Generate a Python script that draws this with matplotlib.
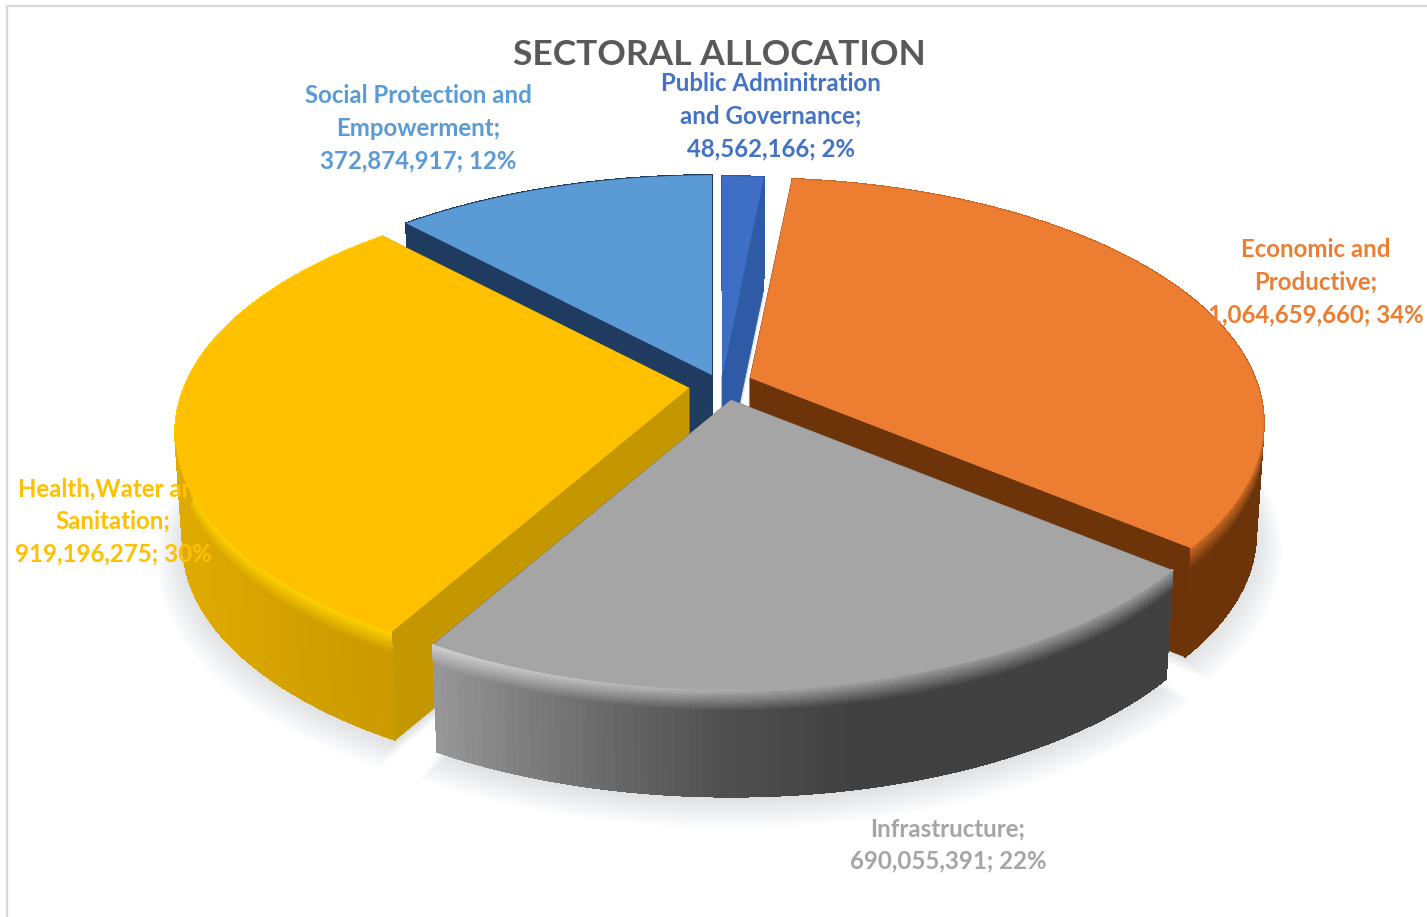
import numpy as np
import matplotlib
matplotlib.use("Agg")
import matplotlib.pyplot as plt
from matplotlib.collections import PolyCollection
from matplotlib.colors import to_rgb

names = ['Public Adminitration\nand Governance', 'Economic and\nProductive', 'Infrastructure',
         'Health,Water and\nSanitation', 'Social Protection and\nEmpowerment']
values = [48562166, 1064659660, 690055391, 919196275, 372874917]

top_cols = ['#3F6EC5', '#ED7D31', '#A5A5A5', '#FFC000', '#5B9BD5']
face_cols = ['#2F5AA5', '#6E3409', '#6E6E6E', '#C49600', '#1F3B60']
label_cols = ['#4472C4', '#ED7D31', '#A5A5A5', '#FFC000', '#5B9BD5']

# exploded apex of each slice, in pixels
apex = [(722, 376), (750, 378), (731, 400), (689, 388), (712, 375)]
label_pos = [(771, 116), (1316, 282), (948, 845), (113, 521), (418, 128)]
draw_order = [0, 4, 1, 3, 2]

# rim shading along x: (x, colour)
rim_stops = [
    [(0, '#2F5AA5'), (1427, '#2F5AA5')],
    [(750, '#7A3C0C'), (1260, '#6B3409')],
    [(435, '#979797'), (520, '#7E7E7E'), (620, '#666666'), (720, '#505050'), (850, '#414141'), (1170, '#414141')],
    [(175, '#E0AB00'), (300, '#D2A000'), (390, '#CA9B00')],
    [(0, '#1F3B60'), (1427, '#1F3B60')],
]
# colour at the top of the rim, left and right ends
bevel_cols = [('#2F5AA5', '#2F5AA5'), ('#D9702B', '#B8621F'), ('#D2D2D2', '#9A9A9A'),
              ('#FFD900', '#FFD000'), ('#1F3B60', '#1F3B60')]

RX, RY = 505.0, 236.6
PERSP = 0.184
DEPTH = 111.0
SHRINK = 0.015


def project(t, ax0, ay0, r=1.0, z=0.0):
    u = r * np.sin(t)
    v = -r * np.cos(t)
    w = 1 - PERSP * v
    s = 1 - SHRINK * z
    return ax0 + s * RX * u / w, ay0 + s * RY * v / w + z * DEPTH


def mix(a, b, f):
    a, b = np.array(to_rgb(a)), np.array(to_rgb(b))
    return a + (b - a) * f


def rim_colour(stops, x):
    xs = [p[0] for p in stops]
    rgb = np.array([to_rgb(p[1]) for p in stops])
    return np.array([np.interp(x, xs, rgb[:, k]) for k in range(3)])


fig = plt.figure(figsize=(14.27, 9.17), dpi=100)
ax = fig.add_axes([0, 0, 1, 1])
ax.set_xlim(0, 1427)
ax.set_ylim(917, 0)
ax.axis('off')

# chart area border
ax.plot([7, 7, 1427], [917, 6, 6], color='#D9D9D9', lw=1.6, zorder=1)

total = float(sum(values))
edges = np.concatenate([[0], np.cumsum(values)]) / total * 2 * np.pi

# soft shadow below each slice
for i in draw_order:
    t = np.linspace(edges[i], edges[i + 1], 90)
    ax0, ay0 = apex[i]
    for r, off in zip(np.linspace(1.05, 1.0, 10), np.linspace(1.12, 1.02, 10)):
        x, y = project(t, ax0, ay0, r, off)
        xa, ya = project(t[0], ax0, ay0, 0, off)
        ax.fill(np.r_[xa, x], np.r_[ya, y], color='#8A8F96', alpha=0.028, lw=0, zorder=2)

z_bands = np.r_[np.linspace(0, 0.2, 21), 1.0]

zo = 3
for i in draw_order:
    t0, t1 = edges[i], edges[i + 1]
    ax0, ay0 = apex[i]

    # flat cut faces
    for te in (t0, t1):
        xa, ya = project(te, ax0, ay0, 0, 0)
        xb, yb = project(te, ax0, ay0, 1, 0)
        xc, yc = project(te, ax0, ay0, 1, 1)
        xd, yd = project(te, ax0, ay0, 0, 1)
        ax.fill([xa, xb, xc, xd], [ya, yb, yc, yd], color=face_cols[i], lw=0.5, zorder=zo)
    zo += 1

    # curved rim, built from small quads
    t = np.linspace(t0, t1, max(int((t1 - t0) * 90), 4))
    quads, cols = [], []
    for a, b in zip(t[:-1], t[1:]):
        for zi in range(len(z_bands) - 1):
            z0, z1 = z_bands[zi], z_bands[zi + 1]
            xa, ya = project(a, ax0, ay0, 1, z0)
            xb, yb = project(b, ax0, ay0, 1, z0)
            xc, yc = project(b, ax0, ay0, 1, z1)
            xd, yd = project(a, ax0, ay0, 1, z1)
            quads.append([(xa, ya), (xb, yb), (xc, yc), (xd, yd)])
            base = rim_colour(rim_stops[i], (xa + xb) / 2)
            fx = np.clip(((xa + xb) / 2 - 430) / 500, 0, 1) if i == 2 else 0.5
            bev = mix(bevel_cols[i][0], bevel_cols[i][1], fx)
            cols.append(bev + (base - bev) * min(1, z0 / z_bands[-2]))
    ax.add_collection(PolyCollection(quads, facecolors=cols, edgecolors=cols, linewidths=0.8,
                                     antialiaseds=False, zorder=zo))
    zo += 1

    # top surface
    x, y = project(t, ax0, ay0)
    ax.fill(np.r_[ax0, x], np.r_[ay0, y], color=top_cols[i], lw=0, zorder=zo)
    zo += 1

ax.text(719, 55, 'SECTORAL ALLOCATION', ha='center', va='center', fontsize=25.5,
        fontweight='bold', family='Lato', color='#595959', zorder=50)

for i in range(len(values)):
    pct = round(values[i] / total * 100)
    label = f'{names[i]};\n{values[i]:,}; {pct}%'
    ax.text(label_pos[i][0], label_pos[i][1], label, ha='center', va='center', fontsize=17.3,
            fontweight='bold', family='Lato', color=label_cols[i], linespacing=1.5, zorder=50)

fig.savefig('out.png', dpi=100)
plt.close('all')
